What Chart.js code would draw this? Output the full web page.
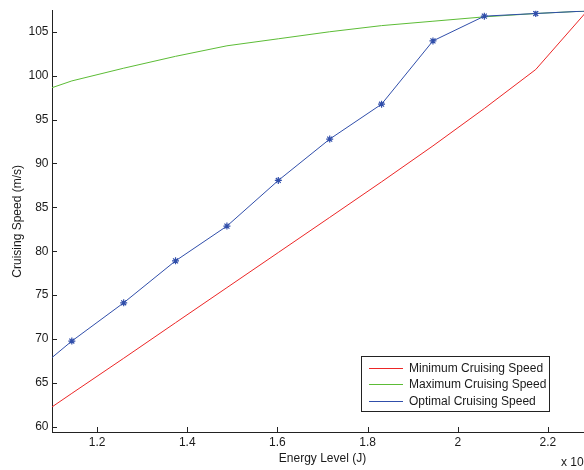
<!DOCTYPE html>
<html>
<head>
<meta charset="utf-8">
<script src="https://cdn.jsdelivr.net/npm/chart.js@4/dist/chart.umd.min.js"></script>
<style>
html,body{margin:0;padding:0;background:#fff;overflow:hidden;width:584px;height:470px;}
#wrap{position:absolute;left:0;top:0;width:600px;height:470px;}
</style>
</head>
<body>
<div id="wrap"><canvas id="c" width="600" height="470" style="width:600px;height:470px"></canvas></div>
<script>
// Data
const energy    = [1.030, 1.144, 1.259, 1.374, 1.488, 1.602, 1.716, 1.831, 1.945, 2.059, 2.173, 2.287];
const minSpeed  = [59.8, 63.8, 67.8, 71.85, 75.85, 79.85, 83.85, 87.9, 92.0, 96.26, 100.7, 107.37];
const maxSpeed  = [97.4, 99.4, 100.85, 102.2, 103.4, 104.2, 105.0, 105.7, 106.2, 106.7, 107.08, 107.37];
const optSpeed  = [64.9, 69.76, 74.12, 78.9, 82.86, 88.06, 92.77, 96.75, 103.96, 106.78, 107.08, 107.37];
const xTicks = [1.2, 1.4, 1.6, 1.8, 2.0, 2.2];
const yTicks = [60, 65, 70, 75, 80, 85, 90, 95, 100, 105];
const seriesNames = ['Minimum Cruising Speed', 'Maximum Cruising Speed', 'Optimal Cruising Speed'];
const xTitle = 'Energy Level (J)';
const yTitle = 'Cruising Speed (m/s)';
const xExponent = 'x 10';

const FONT = 'Liberation Sans, Arial, Helvetica, sans-serif';
const TXT = '#1a1a1a';
const RED = 'rgb(236,38,38)';
const GREEN = 'rgb(92,188,54)';
const BLUE = 'rgb(48,78,170)';

const pts = ys => energy.map((x, i) => ({x: x, y: ys[i]}));

const decor = {
  id: 'decor',
  afterDraw(chart) {
    const ctx = chart.ctx;
    const a = chart.chartArea;
    const xs = chart.scales.x, ys = chart.scales.y;
    ctx.save();
    // inward tick marks
    ctx.strokeStyle = '#222';
    ctx.lineWidth = 1;
    ctx.beginPath();
    yTicks.forEach(v => {
      const p = Math.round(ys.getPixelForValue(v)) + 0.5;
      ctx.moveTo(a.left, p); ctx.lineTo(a.left + 5, p);
    });
    xTicks.forEach(v => {
      const p = Math.round(xs.getPixelForValue(v)) + 0.5;
      ctx.moveTo(p, a.bottom); ctx.lineTo(p, a.bottom - 5);
    });
    ctx.stroke();
    // axis titles
    ctx.fillStyle = TXT;
    ctx.font = '12px ' + FONT;
    ctx.textAlign = 'center';
    ctx.textBaseline = 'middle';
    ctx.fillText(xTitle, (a.left + a.right) / 2, 458.5);
    ctx.save();
    ctx.translate(17.5, (a.top + a.bottom) / 2);
    ctx.rotate(-Math.PI / 2);
    ctx.fillText(yTitle, 0, 0);
    ctx.restore();
    // exponent label
    ctx.textAlign = 'left';
    ctx.fillText(xExponent, 561, 463);
    // legend
    const bx = 361.5, by = 356.5, bw = 188, bh = 55;
    ctx.fillStyle = '#fff';
    ctx.fillRect(bx, by, bw, bh);
    ctx.strokeStyle = '#222';
    ctx.lineWidth = 1;
    ctx.strokeRect(bx, by, bw, bh);
    const dsets = chart.data.datasets;
    [0, 1, 2].forEach(i => {
      const y = 367.7 + i * 16.7;
      ctx.strokeStyle = dsets[i].borderColor;
      ctx.lineWidth = 1;
      ctx.beginPath();
      ctx.moveTo(369, Math.round(y) + 0.5);
      ctx.lineTo(403, Math.round(y) + 0.5);
      ctx.stroke();
      ctx.fillStyle = TXT;
      ctx.textAlign = 'left';
      ctx.textBaseline = 'middle';
      ctx.fillText(dsets[i].label, 409, y + 0.5);
    });
    ctx.restore();
  }
};

new Chart(document.getElementById('c'), {
  type: 'line',
  data: {
    datasets: [
      {label: seriesNames[0], data: pts(minSpeed), borderColor: RED, backgroundColor: RED, borderWidth: 1, pointRadius: 0, order: 2},
      {label: seriesNames[1], data: pts(maxSpeed), borderColor: GREEN, backgroundColor: GREEN, borderWidth: 1, pointRadius: 0, order: 1},
      {label: seriesNames[2], data: pts(optSpeed), borderColor: BLUE, backgroundColor: BLUE, borderWidth: 1,
       pointStyle: 'star', pointRadius: 3.5, pointBorderWidth: 1.2, pointBorderColor: BLUE, order: 0}
    ]
  },
  options: {
    responsive: false,
    animation: false,
    devicePixelRatio: 1,
    layout: {padding: {top: 10, right: 7, left: 0, bottom: 0}},
    plugins: {legend: {display: false}, tooltip: {enabled: false}},
    elements: {line: {tension: 0}},
    scales: {
      x: {
        type: 'linear', min: 1.1, max: 2.3,
        afterBuildTicks: s => { s.ticks = xTicks.map(v => ({value: v})); },
        afterFit: s => { s.height = 38; },
        grid: {display: true, drawOnChartArea: false, drawTicks: false},
        border: {display: true, color: '#222', width: 1},
        ticks: {padding: 3.5, color: TXT, font: {family: FONT, size: 12}, maxRotation: 0, autoSkip: false,
                callback: v => String(Number(v.toFixed(2)))}
      },
      y: {
        type: 'linear', min: 59.4, max: 107.4,
        afterBuildTicks: s => { s.ticks = yTicks.map(v => ({value: v})); },
        afterFit: s => { s.width = 52; },
        grid: {display: true, drawOnChartArea: false, drawTicks: false},
        border: {display: true, color: '#222', width: 1},
        ticks: {padding: 3.5, color: TXT, font: {family: FONT, size: 12}, autoSkip: false,
                callback: v => String(v)}
      }
    }
  },
  plugins: [decor]
});
</script>
</body>
</html>
